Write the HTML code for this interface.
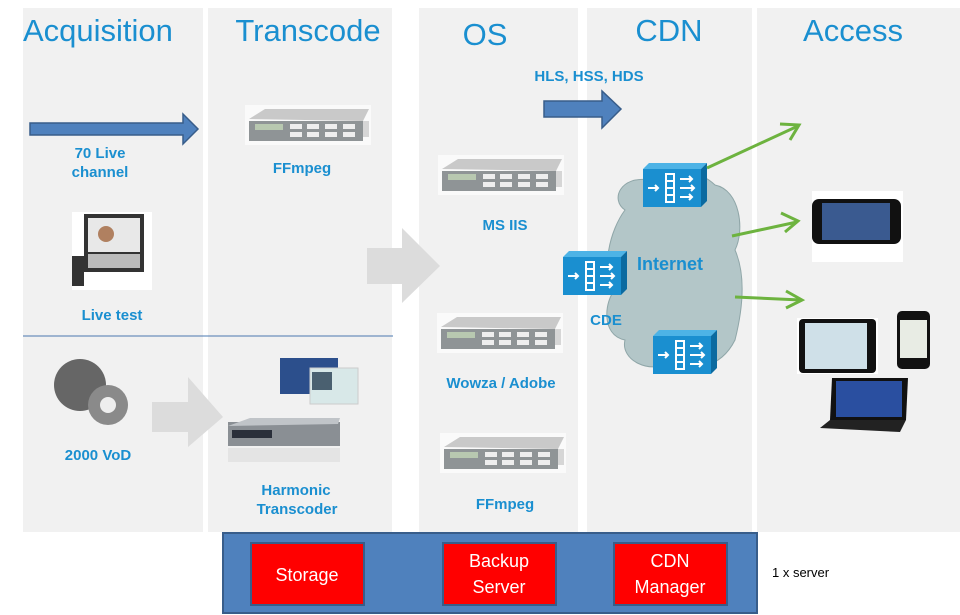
<!DOCTYPE html>
<html><head><meta charset="utf-8"><style>
html,body{margin:0;padding:0;background:#fff;width:960px;height:615px;overflow:hidden}
svg{display:block}
.t{font-family:"Liberation Sans",sans-serif;fill:#1a8fd0;font-size:31px}
.l{font-family:"Liberation Sans",sans-serif;fill:#1a8fd0;font-size:15px;font-weight:bold;text-anchor:middle}
.w{font-family:"Liberation Sans",sans-serif;fill:#fff;font-size:18px;text-anchor:middle}
</style></head><body>
<svg width="960" height="615" viewBox="0 0 960 615" xmlns="http://www.w3.org/2000/svg">
<defs>
<g id="srv">
<rect x="0" y="0" width="126" height="40" fill="#fafafa"/>
<polygon points="4,14 20,4 124,4 118,16" fill="#c9c9c9"/>
<rect x="4" y="16" width="114" height="20" fill="#8f9496"/>
<rect x="10" y="19" width="28" height="6" fill="#b8c8b0"/>
<rect x="45" y="19" width="12" height="5" fill="#eee"/><rect x="62" y="19" width="12" height="5" fill="#eee"/><rect x="80" y="19" width="12" height="5" fill="#eee"/><rect x="98" y="19" width="12" height="5" fill="#eee"/>
<rect x="45" y="27" width="12" height="5" fill="#eee"/><rect x="62" y="27" width="12" height="5" fill="#eee"/><rect x="80" y="27" width="12" height="5" fill="#eee"/><rect x="98" y="27" width="12" height="5" fill="#eee"/>
<rect x="118" y="16" width="6" height="16" fill="#d6d6d6"/>
</g>
<g id="cde">
<polygon points="0,6 6,0 64,0 58,6" fill="#4db3e6"/>
<polygon points="58,6 64,0 64,38 58,44" fill="#0b6aa0"/>
<rect x="0" y="6" width="58" height="38" fill="#1a8fd0"/>
<rect x="22" y="10" width="10" height="30" fill="#fff"/>
<rect x="24" y="12" width="6" height="5" fill="#1a8fd0"/><rect x="24" y="19" width="6" height="5" fill="#1a8fd0"/><rect x="24" y="26" width="6" height="5" fill="#1a8fd0"/><rect x="24" y="33" width="6" height="5" fill="#1a8fd0"/>
<path d="M5 25h10M12 22l3 3-3 3M37 16h12M46 13l3 3-3 3M37 25h14M48 22l3 3-3 3M37 34h12M46 31l3 3-3 3" stroke="#fff" stroke-width="2" fill="none"/>
</g>
</defs>
<rect x="23" y="8" width="180" height="524" fill="#f1f1f1"/>
<rect x="208" y="8" width="184" height="524" fill="#f1f1f1"/>
<rect x="419" y="8" width="159" height="524" fill="#f1f1f1"/>
<rect x="587" y="8" width="165" height="524" fill="#f1f1f1"/>
<rect x="757" y="8" width="203" height="524" fill="#f1f1f1"/>
<text class="t" x="23" y="41">Acquisition</text>
<text class="t" x="308" y="41" text-anchor="middle">Transcode</text>
<text class="t" x="485" y="45" text-anchor="middle">OS</text>
<text class="t" x="669" y="41" text-anchor="middle">CDN</text>
<text class="t" x="853" y="41" text-anchor="middle">Access</text>
<line x1="23" y1="336" x2="393" y2="336" stroke="#4a78b0" stroke-width="1"/>
<polygon points="30,123 183,123 183,114 198,129 183,144 183,135 30,135" fill="#4f81bd" stroke="#385d8a" stroke-width="1.5"/>
<polygon points="544,101 602,101 602,91 621,109 602,128 602,117 544,117" fill="#4f81bd" stroke="#385d8a" stroke-width="1.5"/>
<polygon points="367,248 402,248 402,228 440,266 402,303 402,284 367,284" fill="#dcdcdc"/>
<polygon points="152,402 188,402 188,377 223,417 188,447 188,432 152,432" fill="#dcdcdc"/>
<use href="#srv" x="245" y="105"/>
<use href="#srv" x="438" y="155"/>
<use href="#srv" x="437" y="313"/>
<use href="#srv" x="440" y="433"/>
<g>
<rect x="228" y="422" width="112" height="24" fill="#8a8f94"/>
<polygon points="228,426 250,418 340,418 338,424" fill="#c0c4c8"/>
<rect x="232" y="430" width="40" height="8" fill="#2a2f3a"/>
<rect x="228" y="448" width="112" height="14" fill="#e4e4e4"/>
</g>
<rect x="280" y="358" width="58" height="36" fill="#2c4f8c"/>
<rect x="310" y="368" width="48" height="36" fill="#d8e8e8" stroke="#ccc"/>
<rect x="312" y="372" width="20" height="18" fill="#4a6070"/>
<rect x="72" y="212" width="80" height="78" fill="#fff"/>
<rect x="84" y="214" width="60" height="58" fill="#333"/>
<rect x="88" y="218" width="52" height="34" fill="#e8e8e8"/>
<circle cx="106" cy="234" r="8" fill="#b08060"/>
<rect x="88" y="254" width="52" height="14" fill="#bbb"/>
<rect x="72" y="256" width="12" height="30" fill="#333"/>
<circle cx="80" cy="385" r="26" fill="#666"/>
<circle cx="108" cy="405" r="20" fill="#8a8a8a"/><circle cx="108" cy="405" r="8" fill="#eee"/>
<path d="M625,210 C610,200 620,175 650,180 C670,165 700,170 715,185 C740,190 745,230 735,250 C748,280 740,320 735,340 C720,370 690,372 670,362 C650,375 620,360 625,340 C600,335 605,300 615,290 C600,270 610,230 625,210 Z" fill="#b3c6c8" stroke="#8fa6a8" stroke-width="1"/>
<use href="#cde" x="643" y="163"/>
<use href="#cde" x="563" y="251"/>
<use href="#cde" x="653" y="330"/>
<text class="l" x="670" y="270" style="font-size:18px">Internet</text>
<text class="l" x="606" y="325">CDE</text>
<g stroke="#6db33f" stroke-width="3" fill="none">
<line x1="707" y1="168" x2="798" y2="126"/><polyline points="780,124 799,125 790,140"/>
<line x1="732" y1="236" x2="797" y2="222"/><polyline points="781,213 798,221 785,232"/>
<line x1="735" y1="297" x2="801" y2="300"/><polyline points="786,291 802,300 786,308"/>
</g>
<rect x="812" y="191" width="91" height="71" fill="#fff"/>
<rect x="812" y="199" width="89" height="45" rx="7" fill="#111"/>
<rect x="822" y="203" width="68" height="37" fill="#3a5a90"/>
<rect x="797" y="318" width="81" height="56" fill="#fff"/>
<rect x="799" y="319" width="77" height="54" rx="4" fill="#111"/>
<rect x="805" y="323" width="62" height="46" fill="#cfe0e8"/>
<rect x="897" y="311" width="33" height="58" rx="5" fill="#111"/>
<rect x="900" y="320" width="27" height="38" fill="#e8ece4"/>
<polygon points="832,378 908,378 906,420 830,420" fill="#111"/>
<rect x="836" y="381" width="66" height="36" fill="#2a4fa0"/>
<polygon points="820,428 830,420 906,420 900,432" fill="#222"/>
<text class="l" x="100" y="158">70 Live</text>
<text class="l" x="100" y="177">channel</text>
<text class="l" x="302" y="173">FFmpeg</text>
<text class="l" x="112" y="320">Live test</text>
<text class="l" x="98" y="460">2000 VoD</text>
<text class="l" x="296" y="495">Harmonic</text>
<text class="l" x="297" y="514">Transcoder</text>
<text class="l" x="505" y="230">MS IIS</text>
<text class="l" x="501" y="388">Wowza / Adobe</text>
<text class="l" x="505" y="509">FFmpeg</text>
<text class="l" x="589" y="81" style="text-anchor:middle">HLS, HSS, HDS</text>
<rect x="223" y="533" width="534" height="80" fill="#4f81bd" stroke="#385d8a" stroke-width="2"/>
<rect x="251" y="543" width="113" height="62" fill="#f00" stroke="#385d8a" stroke-width="2"/>
<rect x="443" y="543" width="113" height="62" fill="#f00" stroke="#385d8a" stroke-width="2"/>
<rect x="614" y="543" width="113" height="62" fill="#f00" stroke="#385d8a" stroke-width="2"/>
<text class="w" x="307" y="581">Storage</text>
<text class="w" x="499" y="567">Backup</text>
<text class="w" x="499" y="593">Server</text>
<text class="w" x="670" y="567">CDN</text>
<text class="w" x="670" y="593">Manager</text>
<text x="772" y="577" style="font-family:'Liberation Sans',sans-serif;font-size:13px;fill:#000">1 x server</text>
</svg>
</body></html>
